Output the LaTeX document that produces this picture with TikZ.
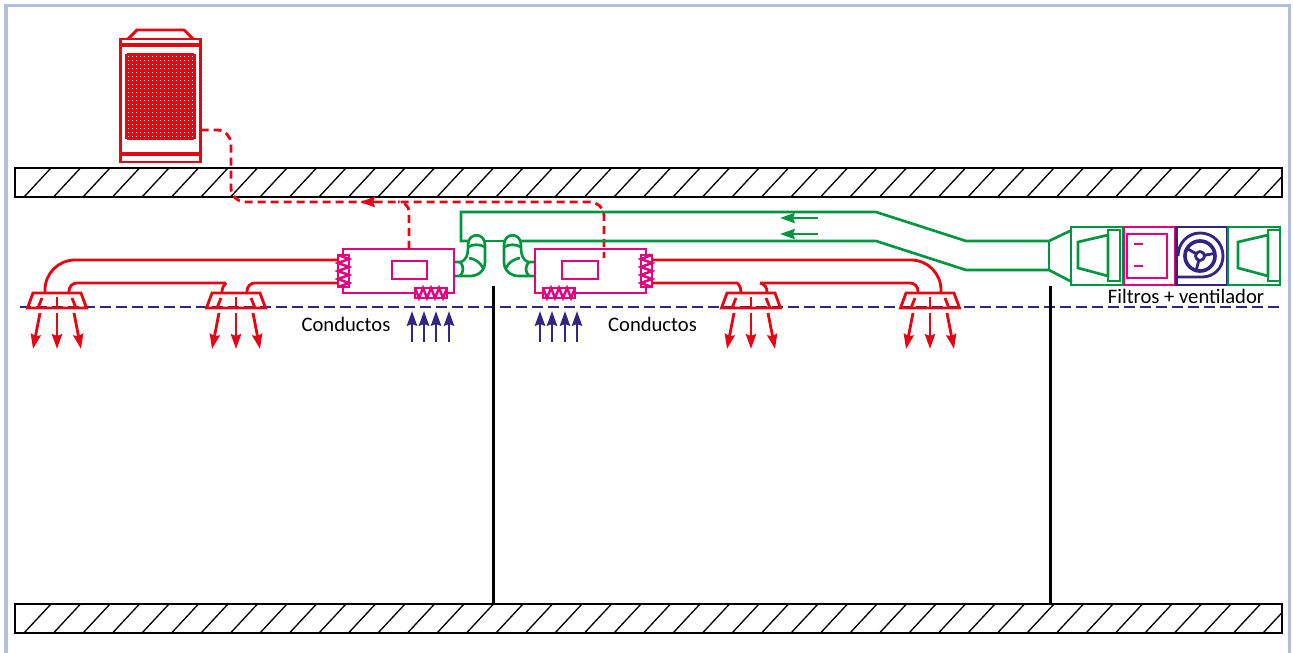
\documentclass[tikz,border=0pt]{standalone}
\usepackage{fontspec}
\setmainfont{Carlito}
\usetikzlibrary{arrows.meta}
\definecolor{refrigred}{HTML}{E30613}
\definecolor{unitpink}{HTML}{E6007E}
\definecolor{airgreen}{HTML}{009640}
\definecolor{ceilblue}{HTML}{312783}
\definecolor{frameblue}{HTML}{B4BEE0}
\begin{document}
\begin{tikzpicture}[
    x=0.03cm, y=-0.03cm,
    >={Stealth[length=4.4mm,width=3mm,inset=0.5mm]},
    slab/.style={draw, line width=0.85mm, minimum width=38.01cm, minimum height=0.87cm, inner sep=0, outer sep=0},
    hatch/.style={line width=0.4mm},
    wall/.style={line width=0.9mm},
    refrig/.style={draw=refrigred, line width=0.85mm},
    duct/.style={refrigred, line width=0.85mm},
    flow/.style={->, refrigred, line width=0.85mm},
    pipe/.style={refrigred, line width=0.85mm, dash pattern=on 2.4mm off 1.5mm},
    unit/.style={draw=unitpink, line width=0.8mm, inner sep=0, outer sep=0},
    coil/.style={draw=unitpink, line width=0.75mm},
    air/.style={draw=airgreen, line width=0.8mm},
    ceiling/.style={ceilblue, line width=0.85mm, dash pattern=on 3.3mm off 1.5mm},
    intake/.style={->, ceilblue, line width=0.85mm},
    fanline/.style={draw=ceilblue, line width=0.85mm},
    label/.style={font=\fontsize{17.6}{18}\selectfont, inner sep=0}
  ]
    \useasboundingbox (0,0) rectangle (1293,653);
    \draw[frameblue, line width=0.9mm] (6,653) |- (1289,6) -- (1289,653);

    % slabs
    \node[slab] (roof) at (648.5,182.5) {};
    \node[slab] (floor) at (648.5,618.5) {};
    \begin{scope}
      \clip (15,168) rectangle (1282,197);
      \foreach \i in {0,...,42}
        \draw[hatch] (24+29.5*\i,197) -- (51+29.5*\i,168);
    \end{scope}
    \begin{scope}
      \clip (15,604) rectangle (1282,633);
      \foreach \i in {0,...,42}
        \draw[hatch] (24+29.5*\i,633) -- (51+29.5*\i,604);
    \end{scope}

    % ceiling and walls
    \coordinate (ceilL) at (20,307);
    \coordinate (ceilR) at (1282,307);
    \draw[ceiling] (ceilL) -- (ceilR);
    \coordinate (wallA) at (493,286);
    \coordinate (wallB) at (1050,286);
    \draw[wall] (wallA) -- (wallA |- floor.north);
    \draw[wall] (wallB) -- (wallB |- floor.north);

    % outdoor unit
    \node[draw=refrigred, line width=0.85mm, minimum width=2.4cm, minimum height=3.69cm, inner sep=0, outer sep=0] (outdoor) at (160.5,100.5) {};
    \draw[refrig] (128,39) -- (137,30) -- (184,30) -- (193,39);
    \draw[refrig, line width=1.1mm] (121,45) -- (200,45);
    \draw[refrig, line width=1.1mm] (121,154) -- (200,154);
    \foreach \i in {0,...,17}
      \draw[refrigred, line width=0.65mm] (126.5+4*\i,54) -- (126.5+4*\i,139);
    \foreach \i in {0,...,21}
      \draw[refrigred, line width=0.65mm] (127,54.5+4*\i) -- (194,54.5+4*\i);

    % indoor units
    \node[unit, minimum width=3.33cm, minimum height=1.32cm] (unitL) at (398.5,271) {};
    \node[unit, minimum width=3.33cm, minimum height=1.32cm] (unitR) at (590.5,271) {};
    \node[unit, minimum width=1.05cm, minimum height=0.54cm] (panelL) at (409.5,270) {};
    \node[unit, minimum width=1.08cm, minimum height=0.54cm] (panelR) at (580,270) {};
    \node[unit, fill=white, minimum width=0.33cm, minimum height=0.96cm] (coilL) at (343.5,271) {};
    \node[unit, fill=white, minimum width=0.33cm, minimum height=0.96cm] (coilR) at (646.5,271) {};
    \node[unit, fill=white, minimum width=0.96cm, minimum height=0.3cm] (intakeL) at (431,293) {};
    \node[unit, fill=white, minimum width=0.96cm, minimum height=0.3cm] (intakeR) at (559,293) {};
    \draw[coil] (338,255) -- (349,259) -- (338,263) -- (349,267) -- (338,271) -- (349,275) -- (338,279) -- (349,283) -- (338,287);
    \draw[coil] (652,255) -- (641,259) -- (652,263) -- (641,267) -- (652,271) -- (641,275) -- (652,279) -- (641,283) -- (652,287);
    \draw[coil] (415,288) -- (419,298) -- (423,288) -- (427,298) -- (431,288) -- (435,298) -- (439,288) -- (443,298) -- (447,288);
    \draw[coil] (543,288) -- (547,298) -- (551,288) -- (555,298) -- (559,288) -- (563,298) -- (567,288) -- (571,298) -- (575,288);

    % refrigerant line
    \coordinate (pipeOut) at (outdoor.east |- 0,130);
    \coordinate (pipeL) at (unitL.north -| 409,0);
    \coordinate (pipeR) at (604,258);
    \draw[pipe, rounded corners=0.42cm] (pipeOut) -- (231,130) -- (231,202) -- (604,202) -- (pipeR);
    \draw[pipe, rounded corners=0.3cm] (pipeL) -- (409,202) -- (398,202);
    \coordinate (pipeTip) at (360,202);
    \draw[flow] (376,202) -- (pipeTip);

    % diffusers
    \foreach \cx in {57,236,751,930} {
      \draw[duct] (\cx-24,293) -- (\cx+24,293) -- (\cx+29.5,308) -- (\cx-29.5,308) -- cycle;
      \draw[duct] (\cx,297) -- (\cx,308);
      \draw[duct] (\cx-15,298) -- (\cx-19,308);
      \draw[duct] (\cx+15,298) -- (\cx+19,308);
      \draw[flow] (\cx,313) -- (\cx,349);
      \draw[flow] (\cx-17,313) -- (\cx-24,349);
      \draw[flow] (\cx+17,313) -- (\cx+24,349);
    }

    % refrigerant ducts
    \draw[duct, rounded corners=0.9cm] (coilL.west |- 0,260) -- (45,260) -- (45,292);
    \draw[duct, rounded corners=0.24cm] (coilL.west |- 0,283) -- (247,283) -- (247,292);
    \draw[duct, rounded corners=0.24cm] (226,283) -- (69,283) -- (69,292);
    \draw[duct] (226,283) .. controls (224,285) and (222,288) .. (222,292);
    \draw[duct, rounded corners=0.9cm] (coilR.east |- 0,260) -- (941,260) -- (941,292);
    \draw[duct] (coilR.east |- 0,283) -- (737,283) .. controls (739,284) and (741,288) .. (741,292);
    \draw[duct, rounded corners=0.24cm] (760,283) -- (918,283) -- (918,292);
    \draw[duct] (760,283) .. controls (765,284) and (767,288) .. (767,292);

    % supply air arrows
    \foreach \x in {412,424,436,449}
      \draw[intake] (\x,342) -- (\x,311);
    \foreach \x in {540,552,565,577}
      \draw[intake] (\x,342) -- (\x,311);
    \node[label, anchor=center] (ductsL) at (346,324) {Conductos};
    \node[label, anchor=center] (ductsR) at (652.5,324) {Conductos};

    % elbows
    \foreach \elbowx/\elbowflip in {0/1,989/-1} {
      \begin{scope}[shift={(\elbowx,0)},xscale=\elbowflip]
        \draw[air] (455,262) -- (461,262) .. controls (466,260) and (468,255) .. (468,248) -- (468,245) .. controls (468,232) and (485,232) .. (485,245) -- (485,262) .. controls (485,271) and (478,276) .. (470,276) -- (455,276);
        \draw[air] (468,247) .. controls (473,244) and (480,244) .. (485,247);
        \draw[air] (469,258) .. controls (475,259) and (480,262) .. (483,268);
        \draw[air] (460,262) .. controls (464,266) and (464,272) .. (460,276);
      \end{scope}
    }

    % air duct
    \node[air, minimum width=1.56cm, minimum height=1.74cm, inner sep=0, outer sep=0] (boxA) at (1097,256) {};
    \node[unit, minimum width=1.53cm, minimum height=1.74cm] (boxFilter) at (1149.5,256) {};
    \node[draw=ceilblue, line width=0.8mm, minimum width=1.53cm, minimum height=1.74cm, inner sep=0, outer sep=0] (boxFan) at (1202,256) {};
    \node[air, minimum width=1.56cm, minimum height=1.74cm, inner sep=0, outer sep=0] (boxB) at (1254,256) {};
    \coordinate (ductTopL) at (461,241);
    \draw[air] (468,241) -- (ductTopL) -- (461,212) -- (876,212) -- (966,241) -- (1049,241) -- (1072,230);
    \draw[air] (485,241) -- (504,241);
    \draw[air] (521,241) -- (876,241) -- (966,270) -- (1049,270) -- (1072,282);
    \draw[air] (1049,241) -- (1049,270);
    \foreach \shiftx in {0,160} {
      \draw[air] (1078+\shiftx,242) -- (1108+\shiftx,235) -- (1108+\shiftx,276) -- (1078+\shiftx,268) -- cycle;
      \draw[air] (1108+\shiftx,230) rectangle (1120+\shiftx,281);
    }
    \coordinate (arrowA) at (780,218);
    \coordinate (arrowB) at (780,234);
    \draw[->, airgreen, line width=0.8mm] (818,218) -- (arrowA);
    \draw[->, airgreen, line width=0.8mm] (818,234) -- (arrowB);

    % filter and fan
    \node[unit, minimum width=1.2cm, minimum height=1.31cm] (filter) at (1147,256) {};
    \draw[coil] (1134,244) -- (1143,244);
    \draw[coil] (1134,266) -- (1143,266);
    \node[circle, draw=ceilblue, line width=1.1mm, minimum size=0.9cm, inner sep=0, outer sep=0] (fan) at (1200,256) {};
    \node[circle, draw=ceilblue, line width=0.85mm, minimum size=0.27cm, inner sep=0, outer sep=0] (hub) at (1200,256) {};
    \draw[fanline] (hub.10) -- (fan.10);
    \draw[fanline] (hub.150) -- (fan.150);
    \draw[fanline] (hub.255) -- (fan.255);
    \draw[fanline] (1178,256) .. controls (1178,243) and (1188,233) .. (1200,233) .. controls (1213,233) and (1223,243) .. (1223,256) .. controls (1223,268) and (1214,277) .. (1202,277) -- (1176,277);

    \node[label, anchor=center] (fanlabel) at (1186,296) {Filtros + ventilador};
  \end{tikzpicture}
\end{document}
